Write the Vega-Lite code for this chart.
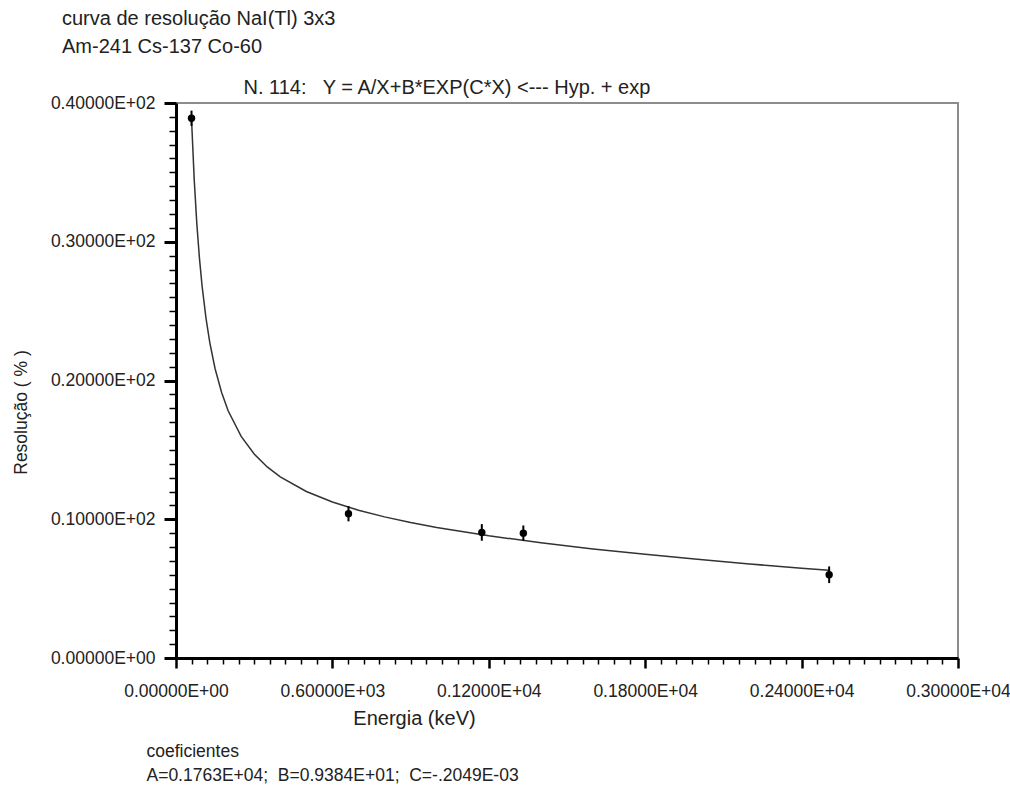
{
  "$schema": "https://vega.github.io/schema/vega-lite/v6.json",
  "width": 782,
  "height": 555,
  "autosize": {"type": "none"},
  "padding": {"left": 176, "top": 103, "right": 52, "bottom": 133},
  "background": "white",
  "config": {
    "view": {"stroke": "#8c8c8c", "strokeWidth": 2},
    "font": "Liberation Sans",
    "axis": {
      "grid": false,
      "labelFont": "Liberation Sans",
      "titleFont": "Liberation Sans",
      "labelColor": "#222",
      "titleColor": "#222",
      "titleFontWeight": "normal",
      "domainColor": "#000",
      "tickColor": "#000",
      "labelOverlap": false,
      "labelFlush": false,
      "labelBound": false
    }
  },
  "title": {
    "text": ["curva de resolução NaI(Tl) 3x3", "Am-241 Cs-137 Co-60"],
    "anchor": "start",
    "frame": "group",
    "dx": -114,
    "baseline": "bottom",
    "offset": 0,
    "fontSize": 20,
    "fontWeight": "normal",
    "color": "#222",
    "lineHeight": 28,
    "font": "Liberation Sans"
  },
  "datasets": {
    "curve": [
      {"E": 60, "R": 38.65},
      {"E": 70, "R": 34.44},
      {"E": 80, "R": 31.27},
      {"E": 90, "R": 28.8},
      {"E": 100, "R": 26.82},
      {"E": 115, "R": 24.5},
      {"E": 130, "R": 22.7},
      {"E": 150, "R": 20.85},
      {"E": 175, "R": 19.13},
      {"E": 200, "R": 17.82},
      {"E": 250, "R": 15.97},
      {"E": 300, "R": 14.7},
      {"E": 350, "R": 13.77},
      {"E": 400, "R": 13.05},
      {"E": 500, "R": 12.0},
      {"E": 600, "R": 11.24},
      {"E": 700, "R": 10.65},
      {"E": 800, "R": 10.17},
      {"E": 900, "R": 9.76},
      {"E": 1000, "R": 9.41},
      {"E": 1200, "R": 8.81},
      {"E": 1400, "R": 8.3},
      {"E": 1600, "R": 7.86},
      {"E": 1800, "R": 7.47},
      {"E": 2000, "R": 7.11},
      {"E": 2200, "R": 6.78},
      {"E": 2400, "R": 6.47},
      {"E": 2505, "R": 6.32}
    ],
    "points": [
      {"E": 59.5, "R": 38.9, "lo": 38.35, "hi": 39.45},
      {"E": 661.7, "R": 10.4, "lo": 9.85, "hi": 10.95},
      {"E": 1173.2, "R": 9.05, "lo": 8.45, "hi": 9.65},
      {"E": 1332.5, "R": 9.0, "lo": 8.45, "hi": 9.55},
      {"E": 2505.7, "R": 6.0, "lo": 5.4, "hi": 6.6}
    ]
  },
  "resolve": {"axis": {"x": "independent", "y": "independent"}},
  "layer": [
    {
      "data": {"name": "curve"},
      "mark": {"type": "line", "color": "#333", "strokeWidth": 1.5, "clip": true},
      "encoding": {
        "x": {
          "field": "E",
          "type": "quantitative",
          "scale": {"domain": [0, 3000], "nice": false, "zero": false},
          "axis": {
            "orient": "bottom",
            "values": [0, 60, 120, 180, 240, 300, 360, 420, 480, 540, 600, 660, 720, 780, 840, 900, 960, 1020, 1080, 1140, 1200, 1260, 1320, 1380, 1440, 1500, 1560, 1620, 1680, 1740, 1800, 1860, 1920, 1980, 2040, 2100, 2160, 2220, 2280, 2340, 2400, 2460, 2520, 2580, 2640, 2700, 2760, 2820, 2880, 2940, 3000],
            "labelExpr": "datum.value == 0 ? '0.00000E+00' : datum.value == 600 ? '0.60000E+03' : datum.value == 1200 ? '0.12000E+04' : datum.value == 1800 ? '0.18000E+04' : datum.value == 2400 ? '0.24000E+04' : datum.value == 3000 ? '0.30000E+04' : ''",
            "tickSize": {"condition": {"test": "datum.value % 600 === 0", "value": 10}, "value": 6},
            "tickWidth": {"condition": {"test": "datum.value % 600 === 0", "value": 2.5}, "value": 1.5},
            "domainWidth": 3,
            "labelFontSize": 17.5,
            "labelPadding": 14,
            "title": "Energia (keV)",
            "titleFontSize": 20,
            "titleX": 238,
            "titleY": 66,
            "titleAlign": "center",
            "titleBaseline": "alphabetic"
          }
        },
        "y": {
          "field": "R",
          "type": "quantitative",
          "scale": {"domain": [0, 40], "nice": false, "zero": false},
          "axis": {
            "orient": "left",
            "values": [0, 1, 2, 3, 4, 5, 6, 7, 8, 9, 10, 11, 12, 13, 14, 15, 16, 17, 18, 19, 20, 21, 22, 23, 24, 25, 26, 27, 28, 29, 30, 31, 32, 33, 34, 35, 36, 37, 38, 39, 40],
            "labelExpr": "datum.value == 0 ? '0.00000E+00' : datum.value == 10 ? '0.10000E+02' : datum.value == 20 ? '0.20000E+02' : datum.value == 30 ? '0.30000E+02' : datum.value == 40 ? '0.40000E+02' : ''",
            "ticks": true,
            "tickColor": "#000",
            "tickOpacity": 1,
            "tickSize": {"condition": {"test": "datum.value % 10 === 0", "value": 12}, "value": 7},
            "tickWidth": {"condition": {"test": "datum.value % 10 === 0", "value": 3}, "value": 1.5},
            "domainWidth": 3,
            "labelFontSize": 17.5,
            "labelPadding": 9,
            "title": "Resolução ( % )",
            "titleFontSize": 17.5,
            "titleX": -150,
            "titleY": 309,
            "titleAngle": 270,
            "titleAlign": "center",
            "titleBaseline": "alphabetic"
          }
        }
      }
    },
    {
      "data": {"name": "points"},
      "mark": {"type": "rule", "color": "#000", "strokeWidth": 2},
      "encoding": {
        "x": {
          "field": "E",
          "type": "quantitative",
          "scale": {"domain": [0, 3000], "nice": false, "zero": false},
          "axis": {
            "orient": "top",
            "domain": false,
            "ticks": false,
            "labels": false,
            "title": "N. 114:\u00a0\u00a0 Y = A/X+B*EXP(C*X) <--- Hyp. + exp",
            "titleFontSize": 20,
            "titleX": 67,
            "titleY": -10,
            "titleAlign": "left",
            "titleBaseline": "alphabetic"
          }
        },
        "y": {
          "field": "lo",
          "type": "quantitative",
          "scale": {"domain": [0, 40], "nice": false, "zero": false},
          "axis": null
        },
        "y2": {"field": "hi"}
      }
    },
    {
      "data": {"name": "points"},
      "mark": {"type": "point", "filled": true, "shape": "circle", "color": "#000", "size": 55, "opacity": 1},
      "encoding": {
        "x": {
          "field": "E",
          "type": "quantitative",
          "scale": {"domain": [0, 3000], "nice": false, "zero": false},
          "axis": {
            "orient": "bottom",
            "ticks": false,
            "labels": false,
            "domain": false,
            "title": ["coeficientes", "A=0.1763E+04;\u00a0 B=0.9384E+01;\u00a0 C=-.2049E-03"],
            "titleFontSize": 17.5,
            "titleLineHeight": 24,
            "titleX": -30,
            "titleY": 98,
            "titleAlign": "left",
            "titleBaseline": "alphabetic"
          }
        },
        "y": {
          "field": "R",
          "type": "quantitative",
          "scale": {"domain": [0, 40], "nice": false, "zero": false},
          "axis": null
        }
      }
    }
  ]
}
